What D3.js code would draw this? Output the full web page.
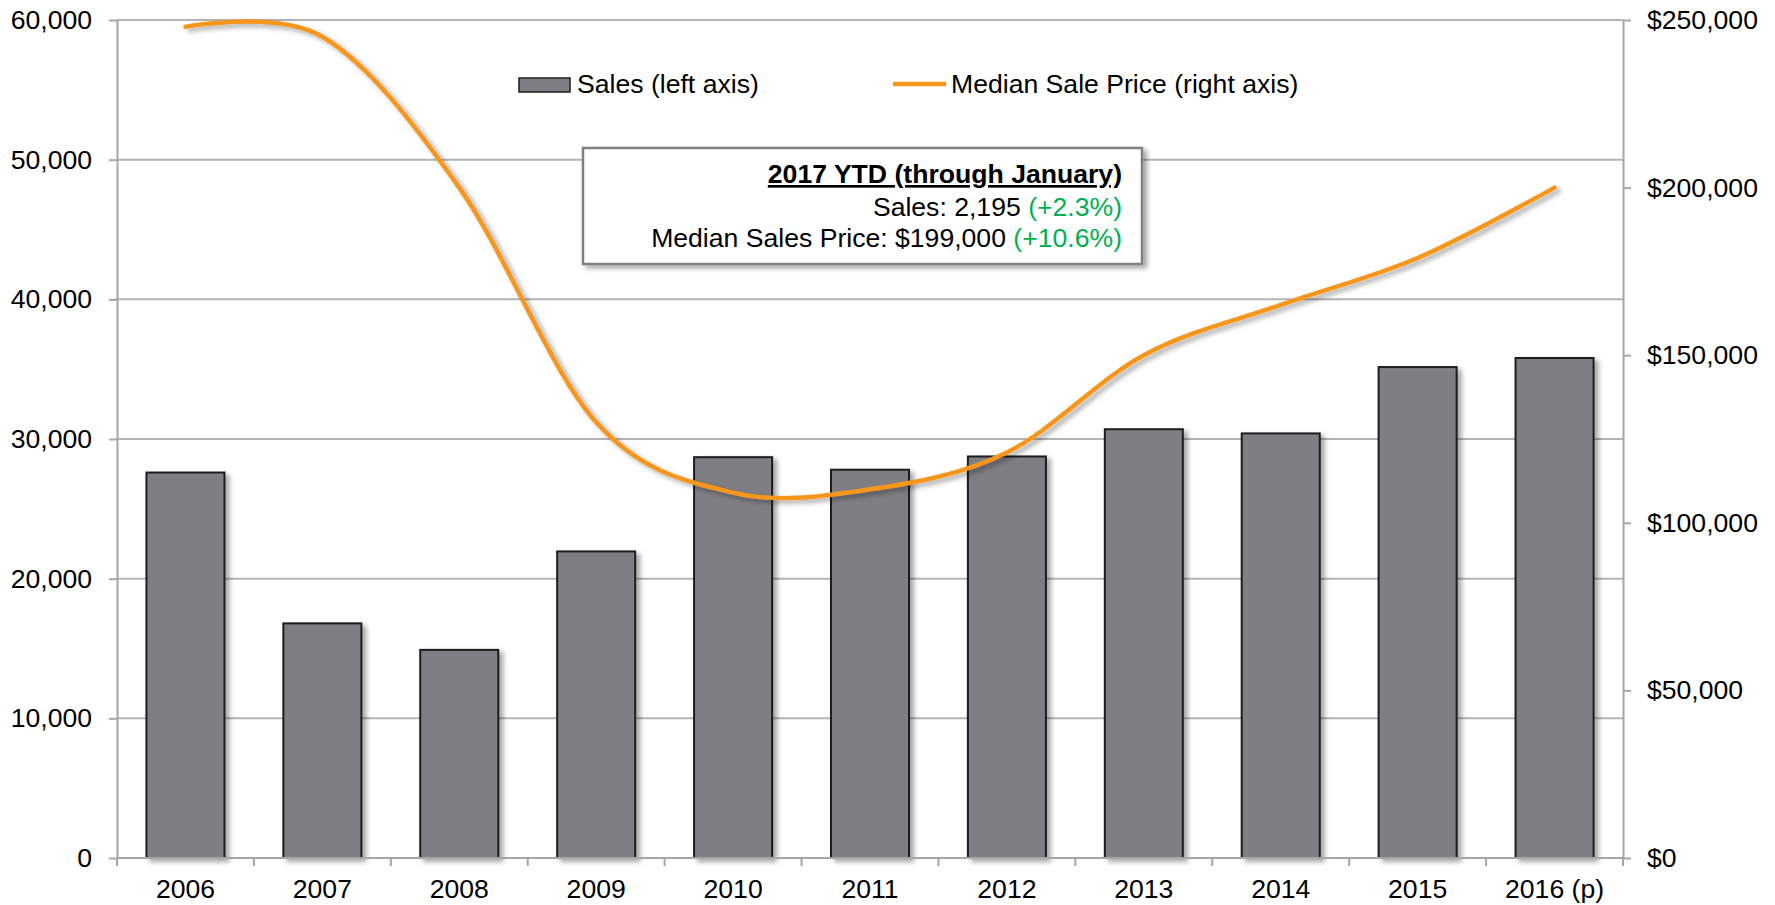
<!DOCTYPE html>
<html>
<head>
<meta charset="utf-8">
<script src="https://cdn.jsdelivr.net/npm/d3@7"></script>
<style>
  body { margin: 0; background: #fff; }
  svg { font-family: "Liberation Sans", Arial, sans-serif; }
</style>
</head>
<body>
<script>
// values
const years = ["2006", "2007", "2008", "2009", "2010", "2011", "2012", "2013", "2014", "2015", "2016 (p)"];
const sales = [27600, 16800, 14900, 21950, 28700, 27800, 28750, 30700, 30400, 35150, 35800];
const medianPrice = [248000, 245000, 200000, 130000, 109000, 110000, 121000, 150000, 165000, 179000, 200000];
const salesTicks = [0, 10000, 20000, 30000, 40000, 50000, 60000];
const priceTicks = [0, 50000, 100000, 150000, 200000, 250000];

const width = 1775, height = 905;
const margin = {top: 20, right: 152, bottom: 47, left: 117};
const fontSize = "26.6px";

const svg = d3.select("body").append("svg")
    .attr("width", width)
    .attr("height", height);

const defs = svg.append("defs");
const shadow = defs.append("filter").attr("id", "shadow")
    .attr("x", "-20%").attr("y", "-20%").attr("width", "140%").attr("height", "140%");
shadow.append("feDropShadow")
    .attr("dx", 4).attr("dy", 3).attr("stdDeviation", 2.5)
    .attr("flood-color", "#000").attr("flood-opacity", 0.35);

const x = d3.scaleBand()
    .domain(years)
    .range([margin.left, width - margin.right])
    .paddingInner(0.43)
    .paddingOuter(0.215);

const y = d3.scaleLinear().domain([0, 60000]).range([height - margin.bottom, margin.top]);
const y2 = d3.scaleLinear().domain([0, 250000]).range([height - margin.bottom, margin.top]);

// gridlines
svg.append("g")
    .selectAll("line")
    .data(salesTicks.slice(1))
    .join("line")
    .attr("x1", margin.left)
    .attr("x2", width - margin.right)
    .attr("y1", d => y(d))
    .attr("y2", d => y(d))
    .attr("stroke", "#b4b4b4")
    .attr("stroke-width", 2);

// bars
svg.append("g")
    .selectAll("rect")
    .data(years)
    .join("rect")
    .attr("x", d => x(d))
    .attr("y", (d, i) => y(sales[i]))
    .attr("width", x.bandwidth())
    .attr("height", (d, i) => y(0) - y(sales[i]))
    .attr("fill", "#7f7e83")
    .attr("stroke", "#1e1e1e")
    .attr("stroke-width", 2)
    .attr("filter", "url(#shadow)");

// axes
const axisColor = "#a6a6a6";
function styleAxis(g) {
    g.select(".domain").attr("stroke", axisColor).attr("stroke-width", 2);
    g.selectAll(".tick line").attr("stroke", axisColor).attr("stroke-width", 2);
    g.selectAll(".tick text").attr("fill", "#000").style("font-size", fontSize);
}

svg.append("g")
    .attr("transform", `translate(${margin.left},0)`)
    .call(d3.axisLeft(y).tickValues(salesTicks).tickFormat(d3.format(",")).tickSize(8).tickPadding(17).tickSizeOuter(0))
    .call(styleAxis);

svg.append("g")
    .attr("transform", `translate(${width - margin.right},0)`)
    .call(d3.axisRight(y2).tickValues(priceTicks).tickFormat(d => "$" + d3.format(",")(d)).tickSize(8).tickPadding(16).tickSizeOuter(0))
    .call(styleAxis);

// category axis: labels at band centres, ticks at band boundaries
const xAxis = svg.append("g")
    .attr("transform", `translate(0,${y(0)})`)
    .call(d3.axisBottom(x).tickSize(0).tickPadding(21))
    .call(styleAxis);
xAxis.select(".domain").attr("d", `M${margin.left},0H${width - margin.right}`);
xAxis.append("g")
    .selectAll("line")
    .data(d3.range(years.length + 1))
    .join("line")
    .attr("x1", i => margin.left + i * x.step())
    .attr("x2", i => margin.left + i * x.step())
    .attr("y1", 0)
    .attr("y2", 8)
    .attr("stroke", axisColor)
    .attr("stroke-width", 2);

// median price line
const line = d3.line()
    .x((d, i) => x(years[i]) + x.bandwidth() / 2)
    .y(d => y2(d))
    .curve(d3.curveCatmullRom.alpha(0));

svg.append("path")
    .datum(medianPrice)
    .attr("fill", "none")
    .attr("stroke", "#f7961e")
    .attr("stroke-width", 4.5)
    .attr("stroke-linecap", "round")
    .attr("filter", "url(#shadow)")
    .attr("d", line);

// legend
const legend = svg.append("g").style("font-size", fontSize);
legend.append("rect")
    .attr("x", 519).attr("y", 78).attr("width", 51).attr("height", 14)
    .attr("fill", "#7f7e83").attr("stroke", "#1e1e1e").attr("stroke-width", 1.5);
legend.append("text").attr("x", 577).attr("y", 93).text("Sales (left axis)");
legend.append("line")
    .attr("x1", 893).attr("x2", 946).attr("y1", 84).attr("y2", 84)
    .attr("stroke", "#f7961e").attr("stroke-width", 4.5);
legend.append("text").attr("x", 951).attr("y", 93).text("Median Sale Price (right axis)");

// YTD box
const box = svg.append("g");
box.append("rect")
    .attr("x", 583).attr("y", 148).attr("width", 559).attr("height", 116)
    .attr("fill", "#fff").attr("stroke", "#7f7f7f").attr("stroke-width", 2.5)
    .attr("filter", "url(#shadow)");
const bx = 1122;
box.append("text")
    .attr("x", bx).attr("y", 183)
    .attr("text-anchor", "end")
    .attr("font-weight", "bold")
    .attr("text-decoration", "underline")
    .style("font-size", fontSize)
    .text("2017 YTD (through January)");
const l2 = box.append("text")
    .attr("x", bx).attr("y", 215.5)
    .attr("text-anchor", "end")
    .style("font-size", fontSize);
l2.append("tspan").text("Sales: 2,195 ");
l2.append("tspan").attr("fill", "#00b050").text("(+2.3%)");
const l3 = box.append("text")
    .attr("x", bx).attr("y", 247)
    .attr("text-anchor", "end")
    .style("font-size", fontSize);
l3.append("tspan").text("Median Sales Price: $199,000 ");
l3.append("tspan").attr("fill", "#00b050").text("(+10.6%)");
</script>
</body>
</html>
